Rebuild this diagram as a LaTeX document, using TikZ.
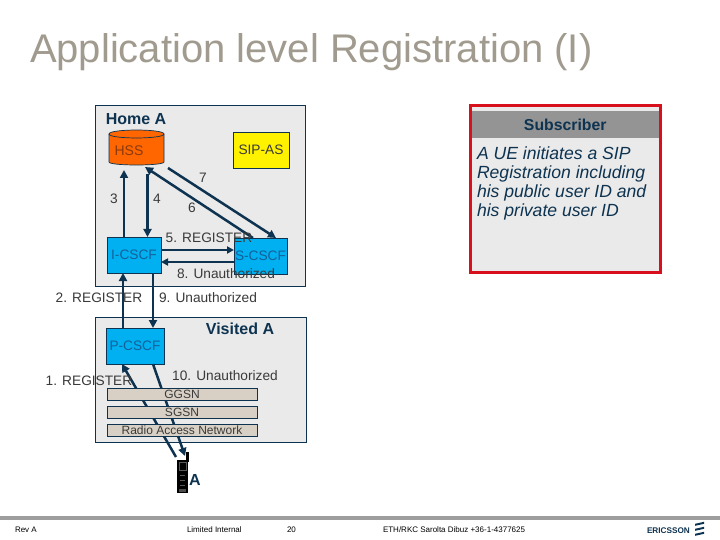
\documentclass[tikz,border=0pt]{standalone}
\usepackage{fontspec}
\setmainfont{Liberation Sans}
\usetikzlibrary{shapes.geometric,arrows.meta,calc}
\definecolor{navy}{HTML}{0E3350}
\definecolor{boxgray}{HTML}{EAEAEA}
\definecolor{cyanbox}{HTML}{00B0F0}
\definecolor{titlec}{HTML}{A09B8E}
\definecolor{labelc}{HTML}{3A3A3A}
\definecolor{barc}{HTML}{D8D0C4}
\definecolor{cscftext}{HTML}{14609A}
\definecolor{hsstext}{HTML}{8A3A10}
\definecolor{hssfill}{HTML}{FF6600}
\definecolor{redbox}{HTML}{D8101C}
\newcommand{\fsz}[1]{\fontsize{#1pt}{\dimexpr#1pt*6/5\relax}\selectfont}
\tikzset{
  x=1pt,y=-1pt,
  every node/.style={inner sep=0pt,outer sep=0pt},
  area/.style={draw=navy,line width=1pt,fill=boxgray,anchor=north west},
  cscf/.style={draw=navy,line width=.7pt,fill=cyanbox,anchor=north west,font=\fsz{13.7},text=cscftext},
  bar/.style={draw=navy,line width=.7pt,fill=barc,anchor=north west,minimum width=150pt,minimum height=12pt,font=\fsz{12},text=labelc},
  lbl/.style={font=\fsz{13.7},text=labelc},
  heavy/.style={draw=navy,line width=2.5pt,-{Triangle[length=8pt,width=8pt]}},
  medium/.style={draw=navy,line width=2pt,-{Triangle[length=7pt,width=7pt]}},
  foot/.style={font=\fsz{8},text=black,anchor=west},
}
\begin{document}
\begin{tikzpicture}
\useasboundingbox[fill=white] (0,0) rectangle (720,540);
% title
\node[anchor=west,text=titlec,font=\fsz{40}] (title) at (30,52) {Application level Registration (I)};
% areas
\node[area,minimum width=210pt,minimum height=180pt] (home) at (95,106) {};
\node[area,minimum width=211pt,minimum height=125pt] (visited) at (95,317) {};
% nodes
\node[draw=navy,line width=.7pt,fill=yellow,anchor=north west,minimum width=56pt,minimum height=36pt,font=\fsz{13.7},text=labelc] (sipas) at (233,132) {SIP-AS};
\node[minimum width=55pt,minimum height=35pt] (hss) at (136.5,147.5) {};
\draw[navy,line width=.7pt,fill=hssfill] ([yshift=-4pt]hss.north west)
  .. controls ([yshift=1.3pt]hss.north west) and ([yshift=1.3pt]hss.north east) .. ([yshift=-4pt]hss.north east) -- ([yshift=3pt]hss.south east)
  .. controls ([yshift=-1pt]hss.south east) and ([yshift=-1pt]hss.south west) .. ([yshift=3pt]hss.south west) -- cycle;
\draw[navy,line width=.7pt] ([yshift=-4pt]hss.north west)
  .. controls ([yshift=-9.3pt]hss.north west) and ([yshift=-9.3pt]hss.north east) .. ([yshift=-4pt]hss.north east);
\node[font=\fsz{14},text=hsstext] (hsst) at (129,151) {HSS};
\node[cscf,minimum width=54pt,minimum height=36pt] (icscf) at (107,237) {I-CSCF};
\node[cscf,minimum width=53pt,minimum height=36pt] (scscf) at (234,238) {S-CSCF};
\node[cscf,minimum width=58pt,minimum height=36pt] (pcscf) at (106,328) {P-CSCF};
% phone
\fill[black] (186,452) rectangle (189,462);
\node[fill=black,anchor=north west,minimum width=11pt,minimum height=33pt] (phone) at (177,460) {};
\draw[gray!70!black,line width=.5pt] (179,462) rectangle (186,470) (180,475) -- (185,475) (180,480) -- (185,480) (180,485) -- (185,485);
\fill[gray!60!black] (179,489) rectangle (186,492);
% connectors
\draw[heavy] ([xshift=-10pt]icscf.north) -- ([xshift=-12.5pt,yshift=-5pt]hss.south);
\draw[heavy,line width=3pt] ([xshift=11pt,yshift=-9pt]hss.south) -- ([xshift=13.5pt]icscf.north);
\draw[heavy] ([xshift=-7.5pt]scscf.north) -- ([xshift=8.5pt,yshift=-2pt]hss.south);
\draw[heavy] ([xshift=31.5pt,yshift=-3pt]hss.south) -- ([xshift=15.5pt]scscf.north);
\draw[medium] ([yshift=5pt]icscf.east) -- ([yshift=6pt]scscf.west);
\draw[medium] ([yshift=-6pt]scscf.west) -- ([yshift=-7pt]icscf.east);
\draw[heavy] ([xshift=-12pt]pcscf.north) -- ([xshift=-11pt]icscf.south);
\draw[heavy] ([xshift=19pt]icscf.south) -- ([xshift=18pt]pcscf.north);
\draw[heavy] ([xshift=-6.5pt,yshift=3pt]phone.north) -- ([xshift=-13pt]pcscf.south);
\draw[heavy] ([xshift=18pt]pcscf.south) -- ([xshift=2.5pt,yshift=4pt]phone.north);
% bars over the connectors
\node[bar] (ggsn) at (107,388) {GGSN};
\node[bar] (sgsn) at (107,406) {SGSN};
\node[bar] (ran) at (107,424) {Radio Access Network};
% labels
\node[font=\bfseries\fsz{16},text=navy] (homet) at (136,119) {Home A};
\node[font=\bfseries\fsz{16},text=navy] (visitedt) at (240,329) {Visited A};
\node[font=\bfseries\fsz{16},text=navy] (at) at (195,479.5) {A};
\node[lbl] (l3) at (114,199) {3};
\node[lbl] (l4) at (157,199) {4};
\node[lbl] (l6) at (192,208) {6};
\node[lbl] (l7) at (203,178) {7};
\node[lbl] (l5) at (209,238) {5. REGISTER};
\node[lbl] (l8) at (226,274) {8. Unauthorized};
\node[lbl] (l2) at (99,298) {2. REGISTER};
\node[lbl] (l9) at (208,298) {9. Unauthorized};
\node[lbl] (l1) at (89,381) {1. REGISTER};
\node[lbl] (l10) at (225,376) {10. Unauthorized};
% subscriber panel
\node[draw=redbox,line width=3pt,fill=boxgray,anchor=north west,minimum width=190pt,minimum height=167pt] (panel) at (470.5,105.5) {};
\node[fill=black!42,anchor=north west,minimum width=186.5pt,minimum height=27pt,font=\bfseries\fsz{15.8},text=navy] (subhead) at (472,111) {Subscriber};
\node[anchor=north west,align=left,font=\itshape\fontsize{17.6pt}{19pt}\selectfont,text=navy] (subtext) at (477,146.5) {A UE initiates a SIP\\Registration including\\his public user ID and\\his private user ID};
% footer
\fill[black!38] (0,516) rectangle (720,520);
\node[foot] (f1) at (15,530) {Rev A};
\node[foot] (f2) at (187,530) {Limited Internal};
\node[foot] (f3) at (287,530) {20};
\node[foot] (f4) at (383,530) {ETH/RKC Sarolta Dibuz +36-1-4377625};
\node[anchor=west,font=\bfseries\fsz{8.2},text=navy] (logo) at (647,531) {ERICSSON};
\foreach \yy in {525,530,535}{\fill[navy] (695,\yy-1.2) -- (704,\yy-3.2) -- (704,\yy-1.2) -- (695,\yy+.8) -- cycle;}
\end{tikzpicture}
\end{document}
